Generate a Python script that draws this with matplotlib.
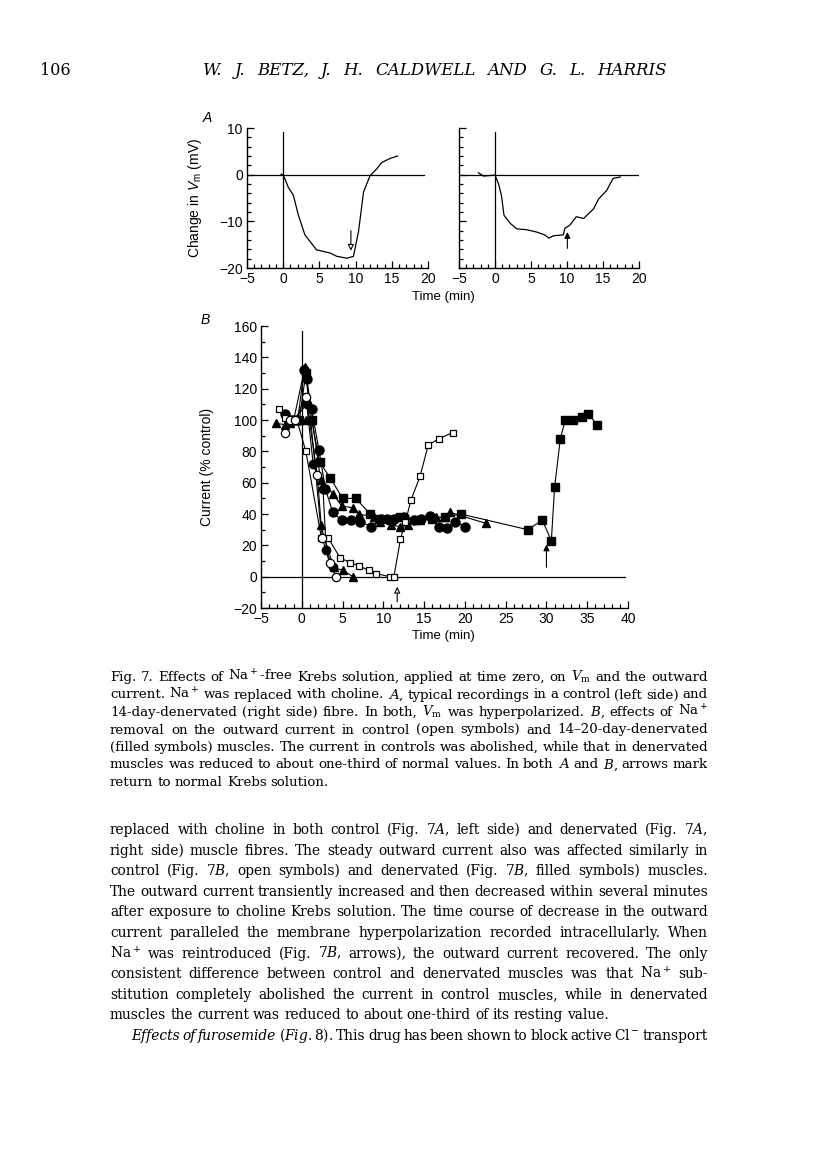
import matplotlib
matplotlib.use("Agg")
import matplotlib.pyplot as plt
from matplotlib.ticker import MultipleLocator

plt.rcParams["font.family"] = ["Liberation Sans", "DejaVu Sans"]
plt.rcParams["mathtext.fontset"] = "custom"
plt.rcParams["mathtext.rm"] = "DejaVu Serif"
plt.rcParams["mathtext.it"] = "DejaVu Serif:italic"
plt.rcParams["mathtext.sf"] = "Liberation Sans:italic"
plt.rcParams["mathtext.bf"] = "Liberation Sans"

W, H = 816, 1155
SERIF = "DejaVu Serif"

# ---------------- panel A: membrane potential traces ----------------
a_ctrl_t = [-0.3, 0.0, 0.7, 1.4, 2.1, 3.0, 4.6, 6.5, 7.4, 8.8, 9.7, 10.4, 11.1,
            12.0, 12.9, 13.6, 14.8, 15.8]
a_ctrl_v = [0.1, 0.0, -2.7, -4.4, -8.7, -12.9, -16.1, -16.8, -17.5, -17.9, -17.5,
            -12.2, -3.7, -0.2, 1.2, 2.6, 3.5, 4.0]

a_den_t = [-2.3, -1.6, 0.0, 0.5, 0.9, 1.25, 2.1, 3.0, 4.4, 5.8, 6.9, 7.5, 8.1, 9.5,
           9.7, 10.4, 11.3, 12.3, 13.7, 14.4, 15.5, 16.4, 17.4]
a_den_v = [0.4, -0.3, -0.1, -2.0, -4.5, -8.7, -10.4, -11.6, -11.8, -12.3, -12.9,
           -13.6, -13.1, -12.9, -11.5, -10.8, -9.0, -9.4, -7.3, -5.2, -3.4, -0.8, -0.5]

# ---------------- panel B: outward current (% control) ----------------
# control (open symbols)
oc_t = [-2.0, -1.4, -0.8, 0.5, 1.9, 2.5, 3.4, 4.2]
oc_v = [92, 100, 100, 115, 65, 25, 9, 0]

os_t = [-2.8, -2.0, -1.3, -0.6, 0.5, 2.4, 3.2, 4.7, 5.9, 7.0, 8.2, 9.1, 10.8, 11.3,
        12.1, 12.7, 13.4, 14.5, 15.5, 16.8, 18.5]
os_v = [107, 101, 100, 100, 80, 25, 25, 12, 9, 7, 4, 2, 0, 0, 24, 35, 49, 64, 84, 88, 92]

# filled symbols
ft0_t = [-3.2, -2.1, -1.0, 0.4, 1.1, 2.3, 3.9, 5.0, 6.3]
ft0_v = [98, 97, 100, 134, 100, 33, 6, 4, 0]

fc0_t = [-1.0, 0.6, 1.4, 2.6, 3.0, 3.8]
fc0_v = [100, 110, 72, 56, 17, 6]

fc_t = [-2.0, -1.2, -0.5, 0.3, 0.6, 1.2, 2.1, 2.9, 3.8, 4.9, 6.0, 7.2, 8.5, 9.7,
        10.5, 11.3, 12.5, 13.7, 14.6, 15.7, 16.8, 17.8, 18.8, 20.0]
fc_v = [104, 100, 100, 132, 126, 107, 81, 56, 41, 36, 36, 35, 32, 37, 37, 37, 38,
        36, 37, 39, 32, 31, 35, 32]

fs_t = [-1.0, -0.3, 0.5, 1.2, 2.2, 3.5, 5.0, 6.6, 8.4, 9.5, 11.0, 12.0, 14.0, 16.0,
        17.5, 19.5, 27.7, 29.5, 30.6, 31.0, 31.7, 32.3, 33.3, 34.3, 35.1, 36.2]
fs_v = [100, 100, 130, 100, 73, 63, 50, 50, 40, 37, 36, 38, 36, 37, 38, 40, 30, 36,
        23, 57, 88, 100, 100, 102, 104, 97]

ft_t = [-1.5, -0.5, 0.5, 1.3, 2.3, 3.8, 4.9, 6.3, 7.0, 8.8, 9.6, 11.0, 12.0, 13.0,
        14.5, 16.5, 17.4, 18.2, 22.6]
ft_v = [98, 100, 100, 100, 62, 53, 45, 44, 40, 38, 35, 33, 32, 33, 36, 38, 38, 41, 34]

caption = [
    r"Fig. 7. Effects of Na$^+$-free Krebs solution, applied at time zero, on $V_\mathrm{m}$ and the outward",
    r"current. Na$^+$ was replaced with choline. $A$, typical recordings in a control (left side) and",
    r"14-day-denervated (right side) fibre. In both, $V_\mathrm{m}$ was hyperpolarized. $B$, effects of Na$^+$",
    r"removal on the outward current in control (open symbols) and 14–20-day-denervated",
    r"(filled symbols) muscles. The current in controls was abolished, while that in denervated",
    r"muscles was reduced to about one-third of normal values. In both $A$ and $B$, arrows mark",
    r"return to normal Krebs solution.",
]

body = [
    r"replaced with choline in both control (Fig. 7$A$, left side) and denervated (Fig. 7$A$,",
    r"right side) muscle fibres. The steady outward current also was affected similarly in",
    r"control (Fig. 7$B$, open symbols) and denervated (Fig. 7$B$, filled symbols) muscles.",
    r"The outward current transiently increased and then decreased within several minutes",
    r"after exposure to choline Krebs solution. The time course of decrease in the outward",
    r"current paralleled the membrane hyperpolarization recorded intracellularly. When",
    r"Na$^+$ was reintroduced (Fig. 7$B$, arrows), the outward current recovered. The only",
    r"consistent difference between control and denervated muscles was that Na$^+$ sub-",
    r"stitution completely abolished the current in control muscles, while in denervated",
    r"muscles the current was reduced to about one-third of its resting value.",
    r"*Effects *of *furosemide ($\mathit{Fig.}$ $\mathit{8}$). This drug has been shown to block active Cl$^-$ transport",
]


def px_axes(fig, left, top, right, bottom):
    return fig.add_axes([left / W, 1 - bottom / H, (right - left) / W, (bottom - top) / H])


def style_axes(ax, xmaj, xmin, ymaj, ymin):
    for s in ("top", "right"):
        ax.spines[s].set_visible(False)
    for s in ("left", "bottom"):
        ax.spines[s].set_linewidth(1.0)
    ax.xaxis.set_major_locator(MultipleLocator(xmaj))
    ax.xaxis.set_minor_locator(MultipleLocator(xmin))
    ax.yaxis.set_major_locator(MultipleLocator(ymaj))
    ax.yaxis.set_minor_locator(MultipleLocator(ymin))
    ax.tick_params(which="both", direction="in", width=0.9, labelsize=10, pad=3)
    ax.tick_params(which="major", length=5)
    ax.tick_params(which="minor", length=3)
    ax.patch.set_alpha(0)


def draw_words(fig, rend, line, x0, x1, base, size, justify, family=SERIF):
    # place word by word so the line can be justified like the printed page
    texts, widths = [], []
    for w in line.split():
        style = "normal"
        if w.startswith("*"):
            style, w = "italic", w[1:]
        t = fig.text(0, 1 - base / H, w, fontsize=size, family=family,
                     style=style, va="baseline")
        texts.append(t)
        widths.append(t.get_window_extent(rend).width)
    if justify and len(texts) > 1:
        gap = (x1 - x0 - sum(widths)) / (len(texts) - 1)
    else:
        gap = size * 100 / 72 * 0.3
    x = x0
    for t, wd in zip(texts, widths):
        t.set_x(x / W)
        x += wd + gap


fig = plt.figure(figsize=(W / 100, H / 100), dpi=100)
rend = fig.canvas.get_renderer()

# ---- panel A, control (left)
axL = px_axes(fig, 247, 128, 428, 268)
style_axes(axL, 5, 1, 10, 2)
axL.set_xlim(-5, 20)
axL.set_ylim(-20, 10)
axL.plot([-5, 19.5], [0, 0], color="black", lw=0.9)
axL.plot([0, 0], [-20, 9.2], color="black", lw=0.9)
axL.plot(a_ctrl_t, a_ctrl_v, color="black", lw=0.9)
axL.annotate("", xy=(9.35, -16.3), xytext=(9.35, -12.0),
             arrowprops=dict(arrowstyle="-|>", fc="white", ec="black", lw=0.8,
                             mutation_scale=9, shrinkA=0, shrinkB=0))
axL.set_ylabel(r"Change in $\mathsf{V}_{\mathbf{m}}$ (mV)", fontsize=10)
axL.yaxis.set_label_coords(-0.235, 0.5)

# ---- panel A, denervated (right)
axR = px_axes(fig, 459, 128, 639, 268)
style_axes(axR, 5, 1, 10, 2)
axR.set_xlim(-5, 20)
axR.set_ylim(-20, 10)
axR.tick_params(axis="y", labelleft=False)
axR.plot([-5, 19.8], [0, 0], color="black", lw=0.9)
axR.plot([0, 0], [-20, 9.2], color="black", lw=0.9)
axR.plot(a_den_t, a_den_v, color="black", lw=0.9)
axR.annotate("", xy=(10.05, -12.3), xytext=(10.05, -15.8),
             arrowprops=dict(arrowstyle="-|>", fc="black", ec="black", lw=0.8,
                             mutation_scale=9, shrinkA=0, shrinkB=0))

fig.text(443 / W, 1 - 297 / H, "Time (min)", fontsize=9.5, ha="center", va="center")
fig.text(207 / W, 1 - 118 / H, "A", fontsize=10, style="italic", ha="center", va="center")

# ---- panel B
axB = px_axes(fig, 261, 326, 628, 608)
style_axes(axB, 5, 1, 20, 10)
axB.set_xlim(-5, 40)
axB.set_ylim(-20, 160)
axB.plot([-5, 39.6], [0, 0], color="black", lw=0.9)
axB.plot([0, 0], [-20, 157], color="black", lw=0.9)

kw = dict(color="black", lw=0.8)
axB.plot(fs_t, fs_v, marker="s", ms=5.5, mfc="black", mec="black", **kw)
axB.plot(ft_t, ft_v, marker="^", ms=5.5, mfc="black", mec="black", **kw)
axB.plot(fc_t, fc_v, marker="o", ms=6.5, mfc="black", mec="black", **kw)
axB.plot(ft0_t, ft0_v, marker="^", ms=5.5, mfc="black", mec="black", **kw)
axB.plot(fc0_t, fc0_v, marker="o", ms=6, mfc="black", mec="black", **kw)
axB.plot(os_t, os_v, marker="s", ms=5, mfc="white", mec="black", mew=0.9, **kw)
axB.plot(oc_t, oc_v, marker="o", ms=6, mfc="white", mec="black", mew=0.9, **kw)

axB.annotate("", xy=(11.7, -6.5), xytext=(11.7, -16),
             arrowprops=dict(arrowstyle="-|>", fc="white", ec="black", lw=0.8,
                             mutation_scale=9, shrinkA=0, shrinkB=0))
axB.annotate("", xy=(30.0, 20.5), xytext=(30.0, 6.0),
             arrowprops=dict(arrowstyle="-|>", fc="black", ec="black", lw=0.8,
                             mutation_scale=9, shrinkA=0, shrinkB=0))
axB.set_ylabel("Current (% control)", fontsize=10)
axB.yaxis.set_label_coords((214 - 261) / 367, 0.5)
fig.text(443 / W, 1 - 636 / H, "Time (min)", fontsize=9.5, ha="center", va="center")
fig.text(205 / W, 1 - 320 / H, "B", fontsize=10, style="italic", ha="center", va="center")

# ---- page header
fig.text(40 / W, 1 - 75 / H, "106", fontsize=11.5, family=SERIF, va="baseline")
draw_words(fig, rend, "*W. *J. *BETZ, *J. *H. *CALDWELL *AND *G. *L. *HARRIS",
           203, 667, 75, 12, True)

# ---- caption
for i, line in enumerate(caption):
    draw_words(fig, rend, line, 110, 708, 681 + 17.5 * i, 9.6,
               i < len(caption) - 1)

# ---- body text
for i, line in enumerate(body):
    x0 = 131 if i == len(body) - 1 else 110
    draw_words(fig, rend, line, x0, 708, 834 + 20.6 * i, 9.9,
               i != len(body) - 2)

fig.savefig("out.png", dpi=100)
